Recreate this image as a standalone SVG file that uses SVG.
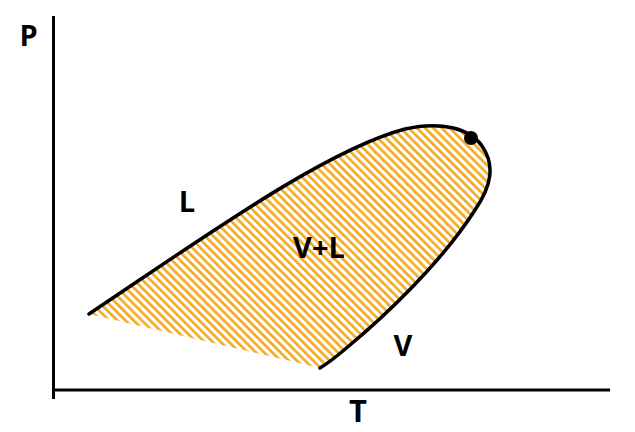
<svg xmlns="http://www.w3.org/2000/svg" width="635" height="432" viewBox="0 0 635 432">
<style>
.lbl{font-family:"Open Sans","Liberation Sans",sans-serif;font-weight:bold;fill:#000;font-size:29px;}
.ax{stroke:#000;stroke-width:3;fill:none;}
.curve{stroke:#000;stroke-width:3.5;fill:none;stroke-linecap:round;}
</style>
<defs>
<pattern id="hatch" patternUnits="userSpaceOnUse" width="5.8" height="10" patternTransform="rotate(-45)">
<rect x="0" y="0" width="2.6" height="10" fill="#F5A81C"/>
</pattern>
</defs>
<rect width="635" height="432" fill="#fff"/>
<g id="region">
<path d="M89,314 C200,240 325,150 405,129 C440,121 470,128 482,146 C495,165 492,185 475,210 C440,265 380,320 350,345 C335,358 330,362 320,368 Z" fill="url(#hatch)"/>
</g>
<g id="connectors">
<line class="ax" x1="53.5" y1="16" x2="53.5" y2="399"/>
<line class="ax" x1="52" y1="390" x2="610" y2="390"/>
<path class="curve" d="M89,314 C200,240 325,150 405,129 C440,121 470,128 482,146 C495,165 492,185 475,210 C440,265 380,320 350,345 C335,358 330,362 320,368"/>
</g>
<g id="critical"><circle cx="471" cy="138" r="7" fill="#000"/></g>
<g id="labels">
<text class="lbl" x="28.5" y="46" text-anchor="middle">P</text>
<text class="lbl" x="358" y="422" text-anchor="middle" style="font-size:31px">T</text>
<text class="lbl" x="187" y="212" text-anchor="middle">L</text>
<text class="lbl" x="319" y="258" text-anchor="middle">V+L</text>
<text class="lbl" x="403" y="356" text-anchor="middle">V</text>
</g>
</svg>
